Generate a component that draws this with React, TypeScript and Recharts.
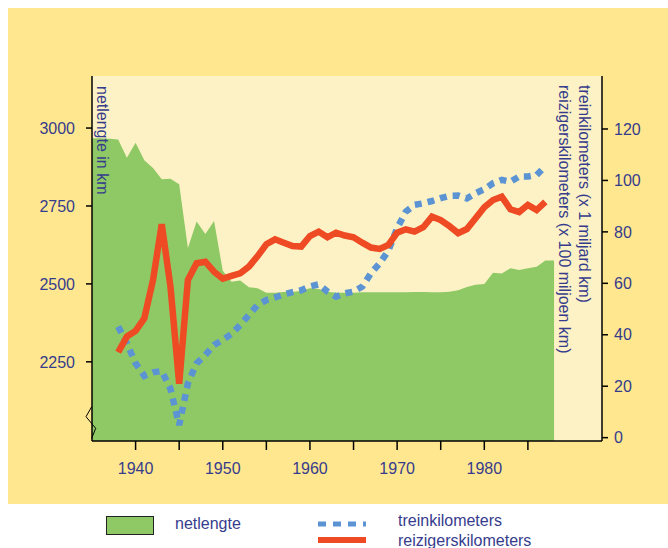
import { Area, CartesianGrid, ComposedChart, Line, XAxis, YAxis } from "recharts"

const years = [
  1935, 1936, 1937, 1938, 1939, 1940, 1941, 1942, 1943, 1944, 1945, 1946, 1947, 1948, 1949,
  1950, 1951, 1952, 1953, 1954, 1955, 1956, 1957, 1958, 1959, 1960, 1961, 1962, 1963, 1964,
  1965, 1966, 1967, 1968, 1969, 1970, 1971, 1972, 1973, 1974, 1975, 1976, 1977, 1978, 1979,
  1980, 1981, 1982, 1983, 1984, 1985, 1986, 1987, 1988,
]

// netlengte in km (linker as)
const netlengte = [
  2967, 2967, 2966, 2963, 2905, 2953, 2897, 2872, 2836, 2837, 2820, 2615, 2700, 2660, 2702,
  2542, 2507, 2511, 2489, 2486, 2472, 2472, 2474, 2474, 2478, 2486, 2484, 2475, 2472, 2472,
  2472, 2473, 2473, 2473, 2473, 2473, 2473, 2474, 2474, 2473, 2473, 2475, 2480, 2490, 2497,
  2500, 2536, 2533, 2550, 2545, 2550, 2555, 2575, 2575,
]

// treinkilometers (x 1 miljard km) – rechter as
const treinkilometers = [
  null, null, null, 43.2, 36.7, 28.9, 24.0, 25.4, 25.9, 19.0, 4.9, 21.1, 28.9, 32.1, 36.0,
  38.0, 40.3, 43.8, 47.7, 51.6, 53.5, 54.5, 55.7, 56.6, 57.3, 58.8, 59.6, 56.8, 54.8, 56.1,
  56.8, 58.7, 63.9, 67.8, 72.7, 81.4, 87.9, 90.5, 91.1, 92.0, 93.1, 94.0, 94.1, 93.0, 95.0,
  96.6, 98.9, 100.2, 99.5, 101.5, 101.5, 102.1, 105.5, null,
]

// reizigerskilometers (x 100 miljoen km) – rechter as
const reizigerskilometers = [
  null, null, null, 33.2, 39.3, 41.5, 46.4, 61.3, 83.0, 58.7, 21.0, 61.3, 67.8, 68.4, 64.5,
  61.8, 62.9, 63.9, 66.5, 70.6, 75.2, 77.1, 75.8, 74.5, 74.3, 78.4, 80.1, 77.9, 79.7, 78.6,
  77.9, 75.8, 73.9, 73.4, 74.9, 79.7, 81.0, 80.1, 81.8, 85.9, 84.6, 82.2, 79.5, 81.1, 85.3,
  89.6, 92.4, 93.7, 88.8, 87.7, 90.5, 88.5, 91.7, null,
]

const xTicks = [1940, 1945, 1950, 1955, 1960, 1965, 1970, 1975, 1980, 1985]
const leftTicks = [2250, 2500, 2750, 3000]
const rightTicks = [0, 20, 40, 60, 80, 100, 120]

const TEXT = "#363c8c"
const FONT = "'Liberation Sans', Arial, Helvetica, sans-serif"
const GREEN = "#8fc965"
const BLUE = "#5b93d3"
const RED = "#ee4a24"

const data = years.map((year, i) => ({
  year,
  netlengte: netlengte[i],
  trein: treinkilometers[i],
  reiziger: reizigerskilometers[i],
}))

const tickStyle = { fill: TEXT, fontSize: 16, fontFamily: FONT }
const lineStyle = { stroke: "#000", strokeWidth: 1.5 }

const vertical = (left: number, top: number) => ({
  position: "absolute" as const,
  left,
  top,
  writingMode: "vertical-rl" as const,
  fontSize: 16,
  lineHeight: "18px",
  color: TEXT,
  fontFamily: FONT,
  whiteSpace: "nowrap" as const,
})

const legendText = (left: number, top: number) => ({
  position: "absolute" as const,
  left,
  top,
  fontSize: 16,
  lineHeight: "18px",
  color: TEXT,
  fontFamily: FONT,
  whiteSpace: "nowrap" as const,
})

export default function App() {
  return (
    <div style={{ position: "relative", width: 668, height: 548, background: "#fff", overflow: "hidden" }}>
      <style>{"body{margin:0;overflow:hidden}"}</style>
      <div style={{ position: "absolute", left: 8, top: 8, width: 660, height: 496, background: "#ffe78f" }} />
      <div style={{ position: "absolute", left: 0, top: 0 }}>
        <ComposedChart width={668} height={504} data={data} margin={{ top: 76, right: 16, bottom: 23, left: 32 }}>
          <CartesianGrid horizontal={false} vertical={false} fill="#fdf2c6" stroke="none" />
          <XAxis
            dataKey="year"
            type="number"
            domain={[1935, 1993.5]}
            allowDataOverflow
            ticks={xTicks}
            tickFormatter={(v: number) => (v % 10 === 0 ? String(v) : "")}
            tick={tickStyle}
            tickSize={9}
            tickMargin={13}
            axisLine={lineStyle}
            tickLine={lineStyle}
            height={40}
          />
          <XAxis
            xAxisId="top"
            dataKey="year"
            type="number"
            orientation="top"
            domain={[1935, 1993.5]}
            allowDataOverflow
            tick={false}
            tickLine={false}
            axisLine={lineStyle}
            height={0}
          />
          <YAxis
            yAxisId="left"
            domain={[1996, 3167]}
            allowDataOverflow
            ticks={leftTicks}
            tick={tickStyle}
            tickSize={6}
            tickMargin={11}
            axisLine={lineStyle}
            tickLine={lineStyle}
            width={60}
          />
          <YAxis
            yAxisId="right"
            orientation="right"
            domain={[-1.3, 140.6]}
            allowDataOverflow
            ticks={rightTicks}
            tick={{ ...tickStyle, textAnchor: "start" }}
            tickSize={6}
            tickMargin={6}
            axisLine={lineStyle}
            tickLine={lineStyle}
            width={50}
          />
          <Area
            yAxisId="left"
            type="linear"
            dataKey="netlengte"
            fill={GREEN}
            fillOpacity={1}
            stroke="none"
            isAnimationActive={false}
          />
          <Line
            yAxisId="right"
            type="linear"
            dataKey="trein"
            stroke={BLUE}
            strokeWidth={6.5}
            strokeDasharray="7 6"
            dot={false}
            activeDot={false}
            isAnimationActive={false}
          />
          <Line
            yAxisId="right"
            type="linear"
            dataKey="reiziger"
            stroke={RED}
            strokeWidth={6.5}
            dot={false}
            activeDot={false}
            isAnimationActive={false}
          />
        </ComposedChart>
      </div>

      {/* as-onderbreking */}
      <svg style={{ position: "absolute", left: 82, top: 402 }} width={18} height={40}>
        <polyline points="9.7,4.7 4,14.7 13.7,26.3 9.7,36.3" fill="none" stroke="#000" strokeWidth={1} />
      </svg>

      <div style={vertical(93, 86)}>netlengte in km</div>
      <div style={vertical(575, 85)}>treinkilometers (x 1 miljard km)</div>
      <div style={vertical(555, 85)}>reizigerskilometers (x 100 miljoen km)</div>

      {/* legenda */}
      <div
        style={{
          position: "absolute",
          left: 106,
          top: 516,
          width: 48,
          height: 19,
          boxSizing: "border-box",
          border: "1.5px solid #222",
          background: GREEN,
        }}
      />
      <div style={legendText(175, 515)}>netlengte</div>
      <svg style={{ position: "absolute", left: 318, top: 512 }} width={50} height={34}>
        <line x1={0} y1={12} x2={48} y2={12} stroke={BLUE} strokeWidth={5} strokeDasharray="8 7" />
        <line x1={0} y1={28} x2={48} y2={28} stroke={RED} strokeWidth={6} />
      </svg>
      <div style={legendText(398, 512)}>treinkilometers</div>
      <div style={legendText(398, 532)}>reizigerskilometers</div>
    </div>
  )
}
